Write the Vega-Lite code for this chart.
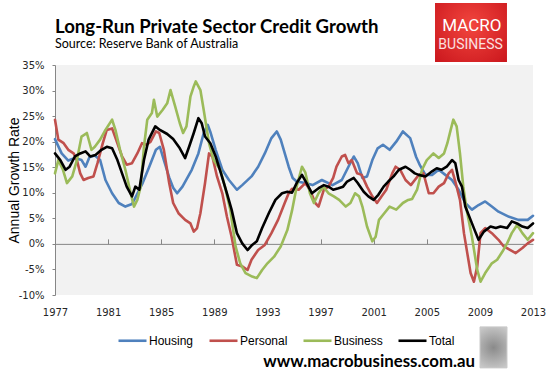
{
  "$schema": "https://vega.github.io/schema/vega-lite/v6.json",
  "width": 478,
  "height": 230,
  "autosize": {"type": "none"},
  "padding": {"left": 55, "top": 65, "right": 20, "bottom": 79},
  "background": "white",
  "config": {
    "view": {"fill": "#F2F2F2", "stroke": null},
    "font": "Liberation Sans"
  },
  "title": {
    "text": "Long-Run Private Sector Credit Growth",
    "subtitle": "Source: Reserve Bank of Australia",
    "anchor": "start",
    "frame": "group",
    "font": "Lato",
    "fontSize": 18.6,
    "fontWeight": "bold",
    "color": "#000000",
    "subtitleFont": "Lato",
    "subtitleFontSize": 12.5,
    "subtitleColor": "#000000",
    "subtitlePadding": 2,
    "offset": -48
  },
  "datasets": {
    "credit": [
      {"series":"Housing","year":1977.0,"value":20.5},
      {"series":"Housing","year":1977.5,"value":17.7},
      {"series":"Housing","year":1978.0,"value":16.3},
      {"series":"Housing","year":1978.5,"value":16.8},
      {"series":"Housing","year":1979.0,"value":16.4},
      {"series":"Housing","year":1979.3,"value":15.1},
      {"series":"Housing","year":1979.6,"value":17.0},
      {"series":"Housing","year":1980.0,"value":17.3},
      {"series":"Housing","year":1980.4,"value":16.4},
      {"series":"Housing","year":1980.8,"value":12.5},
      {"series":"Housing","year":1981.3,"value":9.9},
      {"series":"Housing","year":1981.8,"value":8.0},
      {"series":"Housing","year":1982.3,"value":7.3},
      {"series":"Housing","year":1982.8,"value":7.8},
      {"series":"Housing","year":1983.1,"value":9.3},
      {"series":"Housing","year":1983.6,"value":11.9},
      {"series":"Housing","year":1984.1,"value":15.1},
      {"series":"Housing","year":1984.6,"value":18.4},
      {"series":"Housing","year":1984.9,"value":19.0},
      {"series":"Housing","year":1985.2,"value":16.4},
      {"series":"Housing","year":1985.6,"value":13.0},
      {"series":"Housing","year":1985.9,"value":11.0},
      {"series":"Housing","year":1986.2,"value":9.9},
      {"series":"Housing","year":1986.6,"value":11.2},
      {"series":"Housing","year":1987.3,"value":14.5},
      {"series":"Housing","year":1987.8,"value":17.7},
      {"series":"Housing","year":1988.2,"value":21.7},
      {"series":"Housing","year":1988.5,"value":23.3},
      {"series":"Housing","year":1988.7,"value":21.9},
      {"series":"Housing","year":1989.1,"value":18.4},
      {"series":"Housing","year":1989.6,"value":14.5},
      {"series":"Housing","year":1990.1,"value":12.5},
      {"series":"Housing","year":1990.7,"value":10.6},
      {"series":"Housing","year":1991.1,"value":11.5},
      {"series":"Housing","year":1991.8,"value":13.2},
      {"series":"Housing","year":1992.3,"value":15.1},
      {"series":"Housing","year":1992.8,"value":17.7},
      {"series":"Housing","year":1993.3,"value":20.7},
      {"series":"Housing","year":1993.7,"value":22.0},
      {"series":"Housing","year":1994.0,"value":20.4},
      {"series":"Housing","year":1994.6,"value":15.1},
      {"series":"Housing","year":1994.9,"value":12.9},
      {"series":"Housing","year":1995.2,"value":12.2},
      {"series":"Housing","year":1995.85,"value":11.9},
      {"series":"Housing","year":1996.4,"value":11.5},
      {"series":"Housing","year":1997.1,"value":12.5},
      {"series":"Housing","year":1997.9,"value":11.5},
      {"series":"Housing","year":1998.6,"value":12.5},
      {"series":"Housing","year":1999.1,"value":15.1},
      {"series":"Housing","year":1999.5,"value":17.1},
      {"series":"Housing","year":1999.8,"value":15.8},
      {"series":"Housing","year":2000.15,"value":12.9},
      {"series":"Housing","year":2000.5,"value":13.2},
      {"series":"Housing","year":2000.9,"value":16.4},
      {"series":"Housing","year":2001.3,"value":18.7},
      {"series":"Housing","year":2001.7,"value":19.4},
      {"series":"Housing","year":2002.2,"value":18.4},
      {"series":"Housing","year":2002.7,"value":20.0},
      {"series":"Housing","year":2003.2,"value":22.0},
      {"series":"Housing","year":2003.75,"value":20.7},
      {"series":"Housing","year":2004.2,"value":17.0},
      {"series":"Housing","year":2004.5,"value":15.3},
      {"series":"Housing","year":2004.9,"value":13.5},
      {"series":"Housing","year":2005.4,"value":13.5},
      {"series":"Housing","year":2005.9,"value":14.5},
      {"series":"Housing","year":2006.4,"value":13.5},
      {"series":"Housing","year":2006.9,"value":12.5},
      {"series":"Housing","year":2007.4,"value":10.6},
      {"series":"Housing","year":2007.9,"value":8.0},
      {"series":"Housing","year":2008.4,"value":6.7},
      {"series":"Housing","year":2008.9,"value":7.6},
      {"series":"Housing","year":2009.4,"value":8.3},
      {"series":"Housing","year":2009.9,"value":7.3},
      {"series":"Housing","year":2010.4,"value":6.3},
      {"series":"Housing","year":2011.2,"value":5.3},
      {"series":"Housing","year":2011.9,"value":4.7},
      {"series":"Housing","year":2012.6,"value":4.7},
      {"series":"Housing","year":2013.0,"value":5.5},

      {"series":"Personal","year":1977.0,"value":24.3},
      {"series":"Personal","year":1977.25,"value":20.4},
      {"series":"Personal","year":1977.65,"value":19.7},
      {"series":"Personal","year":1978.0,"value":18.4},
      {"series":"Personal","year":1978.4,"value":17.7},
      {"series":"Personal","year":1978.65,"value":16.4},
      {"series":"Personal","year":1978.9,"value":13.8},
      {"series":"Personal","year":1979.15,"value":12.5},
      {"series":"Personal","year":1979.5,"value":12.9},
      {"series":"Personal","year":1979.9,"value":13.2},
      {"series":"Personal","year":1980.2,"value":15.8},
      {"series":"Personal","year":1980.6,"value":19.7},
      {"series":"Personal","year":1980.9,"value":22.3},
      {"series":"Personal","year":1981.3,"value":22.6},
      {"series":"Personal","year":1981.7,"value":19.7},
      {"series":"Personal","year":1982.05,"value":17.1},
      {"series":"Personal","year":1982.4,"value":15.5},
      {"series":"Personal","year":1982.8,"value":15.8},
      {"series":"Personal","year":1983.2,"value":17.7},
      {"series":"Personal","year":1983.55,"value":19.7},
      {"series":"Personal","year":1983.9,"value":19.4},
      {"series":"Personal","year":1984.2,"value":20.0},
      {"series":"Personal","year":1984.6,"value":22.0},
      {"series":"Personal","year":1984.85,"value":21.7},
      {"series":"Personal","year":1985.2,"value":18.4},
      {"series":"Personal","year":1985.6,"value":11.9},
      {"series":"Personal","year":1985.9,"value":8.0},
      {"series":"Personal","year":1986.3,"value":6.0},
      {"series":"Personal","year":1986.8,"value":4.7},
      {"series":"Personal","year":1987.2,"value":4.0},
      {"series":"Personal","year":1987.45,"value":2.4},
      {"series":"Personal","year":1987.7,"value":3.1},
      {"series":"Personal","year":1987.95,"value":6.0},
      {"series":"Personal","year":1988.3,"value":11.9},
      {"series":"Personal","year":1988.6,"value":17.7},
      {"series":"Personal","year":1988.85,"value":17.1},
      {"series":"Personal","year":1989.2,"value":13.2},
      {"series":"Personal","year":1989.6,"value":9.9},
      {"series":"Personal","year":1989.95,"value":5.3},
      {"series":"Personal","year":1990.3,"value":1.4},
      {"series":"Personal","year":1990.7,"value":-4.1},
      {"series":"Personal","year":1991.1,"value":-4.4},
      {"series":"Personal","year":1991.5,"value":-5.1},
      {"series":"Personal","year":1991.8,"value":-3.1},
      {"series":"Personal","year":1992.3,"value":-1.2},
      {"series":"Personal","year":1992.8,"value":-0.2},
      {"series":"Personal","year":1993.3,"value":2.1},
      {"series":"Personal","year":1993.8,"value":4.7},
      {"series":"Personal","year":1994.3,"value":8.0},
      {"series":"Personal","year":1994.6,"value":9.9},
      {"series":"Personal","year":1994.85,"value":10.8},
      {"series":"Personal","year":1995.35,"value":10.6},
      {"series":"Personal","year":1995.85,"value":11.9},
      {"series":"Personal","year":1996.2,"value":10.6},
      {"series":"Personal","year":1996.6,"value":8.0},
      {"series":"Personal","year":1996.85,"value":7.3},
      {"series":"Personal","year":1997.25,"value":10.6},
      {"series":"Personal","year":1997.6,"value":11.2},
      {"series":"Personal","year":1997.95,"value":12.9},
      {"series":"Personal","year":1998.2,"value":15.1},
      {"series":"Personal","year":1998.6,"value":17.1},
      {"series":"Personal","year":1998.85,"value":17.4},
      {"series":"Personal","year":1999.1,"value":15.8},
      {"series":"Personal","year":1999.35,"value":16.4},
      {"series":"Personal","year":1999.75,"value":13.8},
      {"series":"Personal","year":2000.1,"value":13.5},
      {"series":"Personal","year":2000.5,"value":11.2},
      {"series":"Personal","year":2000.9,"value":9.3},
      {"series":"Personal","year":2001.25,"value":8.0},
      {"series":"Personal","year":2001.6,"value":9.3},
      {"series":"Personal","year":2001.95,"value":10.6},
      {"series":"Personal","year":2002.4,"value":13.8},
      {"series":"Personal","year":2002.65,"value":15.1},
      {"series":"Personal","year":2003.0,"value":14.5},
      {"series":"Personal","year":2003.4,"value":12.5},
      {"series":"Personal","year":2003.8,"value":11.5},
      {"series":"Personal","year":2004.1,"value":12.5},
      {"series":"Personal","year":2004.4,"value":13.5},
      {"series":"Personal","year":2004.75,"value":13.8},
      {"series":"Personal","year":2005.15,"value":9.9},
      {"series":"Personal","year":2005.5,"value":9.9},
      {"series":"Personal","year":2005.9,"value":11.2},
      {"series":"Personal","year":2006.3,"value":11.9},
      {"series":"Personal","year":2006.65,"value":13.8},
      {"series":"Personal","year":2006.9,"value":14.5},
      {"series":"Personal","year":2007.15,"value":12.2},
      {"series":"Personal","year":2007.5,"value":8.6},
      {"series":"Personal","year":2007.8,"value":2.1},
      {"series":"Personal","year":2008.05,"value":-1.8},
      {"series":"Personal","year":2008.3,"value":-5.7},
      {"series":"Personal","year":2008.55,"value":-7.4},
      {"series":"Personal","year":2008.8,"value":-4.4},
      {"series":"Personal","year":2009.05,"value":2.1},
      {"series":"Personal","year":2009.4,"value":3.1},
      {"series":"Personal","year":2009.9,"value":2.1},
      {"series":"Personal","year":2010.4,"value":0.8},
      {"series":"Personal","year":2010.8,"value":-0.5},
      {"series":"Personal","year":2011.3,"value":-1.2},
      {"series":"Personal","year":2011.7,"value":-1.8},
      {"series":"Personal","year":2012.2,"value":-0.8},
      {"series":"Personal","year":2012.6,"value":0.1},
      {"series":"Personal","year":2013.0,"value":0.8},

      {"series":"Business","year":1977.0,"value":13.8},
      {"series":"Business","year":1977.25,"value":16.4},
      {"series":"Business","year":1977.6,"value":14.5},
      {"series":"Business","year":1977.9,"value":11.9},
      {"series":"Business","year":1978.3,"value":13.2},
      {"series":"Business","year":1978.65,"value":16.4},
      {"series":"Business","year":1979.0,"value":21.0},
      {"series":"Business","year":1979.4,"value":21.7},
      {"series":"Business","year":1979.75,"value":18.4},
      {"series":"Business","year":1980.0,"value":19.0},
      {"series":"Business","year":1980.4,"value":20.4},
      {"series":"Business","year":1980.8,"value":22.3},
      {"series":"Business","year":1981.3,"value":24.3},
      {"series":"Business","year":1981.55,"value":22.3},
      {"series":"Business","year":1981.9,"value":18.4},
      {"series":"Business","year":1982.3,"value":14.5},
      {"series":"Business","year":1982.7,"value":9.9},
      {"series":"Business","year":1982.95,"value":7.3},
      {"series":"Business","year":1983.2,"value":8.6},
      {"series":"Business","year":1983.45,"value":11.2},
      {"series":"Business","year":1983.7,"value":19.0},
      {"series":"Business","year":1983.95,"value":24.3},
      {"series":"Business","year":1984.3,"value":25.6},
      {"series":"Business","year":1984.45,"value":28.2},
      {"series":"Business","year":1984.7,"value":24.9},
      {"series":"Business","year":1985.1,"value":26.2},
      {"series":"Business","year":1985.45,"value":27.5},
      {"series":"Business","year":1985.7,"value":30.1},
      {"series":"Business","year":1986.05,"value":26.9},
      {"series":"Business","year":1986.4,"value":23.6},
      {"series":"Business","year":1986.65,"value":21.7},
      {"series":"Business","year":1986.9,"value":23.0},
      {"series":"Business","year":1987.2,"value":28.8},
      {"series":"Business","year":1987.45,"value":30.8},
      {"series":"Business","year":1987.6,"value":31.8},
      {"series":"Business","year":1987.95,"value":30.1},
      {"series":"Business","year":1988.2,"value":26.2},
      {"series":"Business","year":1988.6,"value":19.7},
      {"series":"Business","year":1988.95,"value":16.4},
      {"series":"Business","year":1989.45,"value":14.5},
      {"series":"Business","year":1989.8,"value":11.2},
      {"series":"Business","year":1990.2,"value":6.7},
      {"series":"Business","year":1990.6,"value":-0.5},
      {"series":"Business","year":1990.95,"value":-3.8},
      {"series":"Business","year":1991.35,"value":-5.7},
      {"series":"Business","year":1991.85,"value":-6.4},
      {"series":"Business","year":1992.2,"value":-6.7},
      {"series":"Business","year":1992.6,"value":-5.1},
      {"series":"Business","year":1993.0,"value":-3.8},
      {"series":"Business","year":1993.5,"value":-2.5},
      {"series":"Business","year":1994.0,"value":-0.5},
      {"series":"Business","year":1994.5,"value":2.7},
      {"series":"Business","year":1994.85,"value":6.5},
      {"series":"Business","year":1995.2,"value":11.2},
      {"series":"Business","year":1995.6,"value":15.1},
      {"series":"Business","year":1995.85,"value":14.0},
      {"series":"Business","year":1996.2,"value":9.9},
      {"series":"Business","year":1996.5,"value":8.0},
      {"series":"Business","year":1996.85,"value":9.9},
      {"series":"Business","year":1997.2,"value":11.2},
      {"series":"Business","year":1997.6,"value":9.9},
      {"series":"Business","year":1998.0,"value":9.3},
      {"series":"Business","year":1998.4,"value":8.6},
      {"series":"Business","year":1998.9,"value":7.3},
      {"series":"Business","year":1999.25,"value":8.0},
      {"series":"Business","year":1999.6,"value":9.9},
      {"series":"Business","year":1999.9,"value":9.3},
      {"series":"Business","year":2000.15,"value":7.3},
      {"series":"Business","year":2000.5,"value":3.4},
      {"series":"Business","year":2000.9,"value":0.5},
      {"series":"Business","year":2001.15,"value":1.4},
      {"series":"Business","year":2001.4,"value":4.7},
      {"series":"Business","year":2001.8,"value":6.0},
      {"series":"Business","year":2002.2,"value":7.3},
      {"series":"Business","year":2002.7,"value":6.7},
      {"series":"Business","year":2003.2,"value":8.0},
      {"series":"Business","year":2003.6,"value":8.6},
      {"series":"Business","year":2003.9,"value":8.8},
      {"series":"Business","year":2004.27,"value":10.6},
      {"series":"Business","year":2004.64,"value":14.5},
      {"series":"Business","year":2005.0,"value":16.4},
      {"series":"Business","year":2005.5,"value":17.7},
      {"series":"Business","year":2005.9,"value":16.8},
      {"series":"Business","year":2006.3,"value":17.7},
      {"series":"Business","year":2006.55,"value":19.7},
      {"series":"Business","year":2006.8,"value":22.3},
      {"series":"Business","year":2007.0,"value":24.3},
      {"series":"Business","year":2007.25,"value":23.0},
      {"series":"Business","year":2007.5,"value":17.7},
      {"series":"Business","year":2007.75,"value":11.2},
      {"series":"Business","year":2008.0,"value":6.7},
      {"series":"Business","year":2008.4,"value":1.4},
      {"series":"Business","year":2008.8,"value":-5.1},
      {"series":"Business","year":2009.05,"value":-7.4},
      {"series":"Business","year":2009.4,"value":-5.7},
      {"series":"Business","year":2009.9,"value":-3.8},
      {"series":"Business","year":2010.3,"value":-3.1},
      {"series":"Business","year":2010.7,"value":-1.5},
      {"series":"Business","year":2011.05,"value":0.1},
      {"series":"Business","year":2011.4,"value":2.1},
      {"series":"Business","year":2011.8,"value":3.7},
      {"series":"Business","year":2012.2,"value":2.1},
      {"series":"Business","year":2012.6,"value":0.8},
      {"series":"Business","year":2013.0,"value":2.1},

      {"series":"Total","year":1977.0,"value":17.7},
      {"series":"Total","year":1977.4,"value":16.4},
      {"series":"Total","year":1977.8,"value":14.5},
      {"series":"Total","year":1978.1,"value":15.1},
      {"series":"Total","year":1978.5,"value":17.1},
      {"series":"Total","year":1978.9,"value":17.7},
      {"series":"Total","year":1979.3,"value":18.1},
      {"series":"Total","year":1979.65,"value":17.1},
      {"series":"Total","year":1980.05,"value":17.4},
      {"series":"Total","year":1980.5,"value":18.4},
      {"series":"Total","year":1980.9,"value":19.0},
      {"series":"Total","year":1981.3,"value":18.7},
      {"series":"Total","year":1981.7,"value":16.4},
      {"series":"Total","year":1982.05,"value":13.8},
      {"series":"Total","year":1982.4,"value":11.2},
      {"series":"Total","year":1982.8,"value":9.3},
      {"series":"Total","year":1983.05,"value":11.2},
      {"series":"Total","year":1983.35,"value":10.6},
      {"series":"Total","year":1983.7,"value":16.4},
      {"series":"Total","year":1984.05,"value":20.4},
      {"series":"Total","year":1984.55,"value":23.0},
      {"series":"Total","year":1984.9,"value":22.3},
      {"series":"Total","year":1985.45,"value":21.5},
      {"series":"Total","year":1985.9,"value":20.5},
      {"series":"Total","year":1986.4,"value":18.7},
      {"series":"Total","year":1986.8,"value":16.8},
      {"series":"Total","year":1987.1,"value":19.0},
      {"series":"Total","year":1987.45,"value":21.7},
      {"series":"Total","year":1987.8,"value":24.6},
      {"series":"Total","year":1988.05,"value":23.6},
      {"series":"Total","year":1988.3,"value":21.0},
      {"series":"Total","year":1988.7,"value":19.7},
      {"series":"Total","year":1989.1,"value":17.1},
      {"series":"Total","year":1989.5,"value":13.8},
      {"series":"Total","year":1989.95,"value":9.9},
      {"series":"Total","year":1990.3,"value":6.7},
      {"series":"Total","year":1990.7,"value":2.1},
      {"series":"Total","year":1991.1,"value":0.1},
      {"series":"Total","year":1991.5,"value":-1.2},
      {"series":"Total","year":1991.85,"value":-0.2},
      {"series":"Total","year":1992.2,"value":0.5},
      {"series":"Total","year":1992.6,"value":3.1},
      {"series":"Total","year":1993.1,"value":6.0},
      {"series":"Total","year":1993.6,"value":8.6},
      {"series":"Total","year":1994.1,"value":9.9},
      {"series":"Total","year":1994.5,"value":10.2},
      {"series":"Total","year":1994.85,"value":10.0},
      {"series":"Total","year":1995.2,"value":11.9},
      {"series":"Total","year":1995.6,"value":13.5},
      {"series":"Total","year":1995.95,"value":11.9},
      {"series":"Total","year":1996.35,"value":9.9},
      {"series":"Total","year":1996.85,"value":10.9},
      {"series":"Total","year":1997.25,"value":11.5},
      {"series":"Total","year":1997.6,"value":11.2},
      {"series":"Total","year":1997.95,"value":10.6},
      {"series":"Total","year":1998.35,"value":10.9},
      {"series":"Total","year":1998.7,"value":11.2},
      {"series":"Total","year":1999.0,"value":12.2},
      {"series":"Total","year":1999.5,"value":12.9},
      {"series":"Total","year":1999.8,"value":11.9},
      {"series":"Total","year":2000.25,"value":10.2},
      {"series":"Total","year":2000.6,"value":9.3},
      {"series":"Total","year":2001.0,"value":8.6},
      {"series":"Total","year":2001.35,"value":9.6},
      {"series":"Total","year":2001.75,"value":11.2},
      {"series":"Total","year":2002.1,"value":12.2},
      {"series":"Total","year":2002.5,"value":13.2},
      {"series":"Total","year":2002.9,"value":14.5},
      {"series":"Total","year":2003.4,"value":15.1},
      {"series":"Total","year":2003.75,"value":14.5},
      {"series":"Total","year":2004.1,"value":13.8},
      {"series":"Total","year":2004.4,"value":13.5},
      {"series":"Total","year":2004.9,"value":13.2},
      {"series":"Total","year":2005.4,"value":14.2},
      {"series":"Total","year":2005.75,"value":14.8},
      {"series":"Total","year":2006.1,"value":14.5},
      {"series":"Total","year":2006.5,"value":15.1},
      {"series":"Total","year":2006.9,"value":16.4},
      {"series":"Total","year":2007.15,"value":15.8},
      {"series":"Total","year":2007.4,"value":12.5},
      {"series":"Total","year":2007.65,"value":11.2},
      {"series":"Total","year":2007.9,"value":7.3},
      {"series":"Total","year":2008.3,"value":4.7},
      {"series":"Total","year":2008.65,"value":2.4},
      {"series":"Total","year":2008.9,"value":0.8},
      {"series":"Total","year":2009.3,"value":2.4},
      {"series":"Total","year":2009.8,"value":3.4},
      {"series":"Total","year":2010.2,"value":3.1},
      {"series":"Total","year":2010.55,"value":3.4},
      {"series":"Total","year":2011.05,"value":3.1},
      {"series":"Total","year":2011.4,"value":4.4},
      {"series":"Total","year":2011.8,"value":4.0},
      {"series":"Total","year":2012.2,"value":3.4},
      {"series":"Total","year":2012.6,"value":3.1},
      {"series":"Total","year":2013.0,"value":4.0}
    ]
  },
  "data": {"name": "credit"},
  "layer": [
    {
      "mark": {"type": "point", "opacity": 0},
      "encoding": {
        "x": {
          "field": "year", "type": "quantitative",
          "scale": {"domain": [1977, 2013], "nice": false, "zero": false},
          "axis": {
            "orient": "bottom", "title": null, "domain": false, "ticks": false, "grid": false,
            "values": [1977, 1981, 1985, 1989, 1993, 1997, 2001, 2005, 2009, 2013],
            "format": "d", "labelFont": "DejaVu Sans", "labelFontSize": 10,
            "labelColor": "#262626", "labelPadding": 12, "labelFlush": false, "labelOverlap": false
          }
        },
        "y": {
          "field": "value", "type": "quantitative",
          "scale": {"domain": [-10, 35], "nice": false, "zero": false},
          "axis": null
        }
      }
    },
    {
      "mark": {"type": "line", "strokeJoin": "round", "strokeCap": "round"},
      "encoding": {
        "x": {
          "field": "year", "type": "quantitative",
          "scale": {"domain": [1977, 2013], "nice": false, "zero": false},
          "axis": {
            "orient": "bottom", "offset": -51.11, "title": null, "labels": false, "grid": false,
            "domain": true, "domainColor": "#868686", "domainWidth": 1,
            "ticks": true, "tickColor": "#868686", "tickSize": -5, "tickWidth": 1,
            "values": [1981, 1985, 1989, 1993, 1997, 2001, 2005, 2009]
          }
        },
        "y": {
          "field": "value", "type": "quantitative",
          "scale": {"domain": [-10, 35], "nice": false, "zero": false},
          "axis": {
            "orient": "left", "title": "Annual Growth Rate", "grid": false,
            "values": [-10, -5, 0, 5, 10, 15, 20, 25, 30, 35],
            "labelExpr": "datum.value + '%'",
            "labelFont": "DejaVu Sans", "labelFontSize": 10, "labelColor": "#262626",
            "labelPadding": 8, "domainColor": "#868686", "ticks": true, "tickSize": 3,
            "tickColor": "#868686", "titleFont": "Liberation Sans", "titleFontSize": 14,
            "titleFontWeight": "normal", "titleColor": "#000000", "titlePadding": -3
          }
        },
        "color": {
          "field": "series", "type": "nominal",
          "scale": {"domain": ["Housing", "Personal", "Business", "Total"],
                    "range": ["#4F81BD", "#C0504D", "#9BBB59", "#000000"]},
          "legend": {
            "orient": "none", "legendX": 62, "legendY": 260, "direction": "horizontal",
            "title": null, "symbolType": "stroke", "symbolSize": 784, "symbolStrokeWidth": 3,
            "labelFont": "Liberation Sans", "labelFontSize": 12, "labelColor": "#000000",
            "labelOffset": 1, "columnPadding": 10
          }
        },
        "strokeWidth": {
          "field": "series", "type": "nominal",
          "scale": {"domain": ["Housing", "Personal", "Business", "Total"], "range": [2.6, 2.6, 2.6, 3.2]},
          "legend": null
        }
      }
    },
    {
      "data": {"values": [{}]},
      "mark": {"type": "rect", "fill": {"gradient": "radial", "x1": 0.5, "y1": 0.4, "x2": 0.5, "y2": 0.4, "r1": 0, "r2": 0.75, "stops": [{"offset": 0, "color": "#F2463E"}, {"offset": 1, "color": "#C8141B"}]}},
      "encoding": {
        "x": {"datum": 2005.62, "type": "quantitative", "scale": {"domain": [1977, 2013], "nice": false, "zero": false}, "axis": null},
        "x2": {"datum": 2011.04},
        "y": {"datum": 47.15, "type": "quantitative", "scale": {"domain": [-10, 35], "nice": false, "zero": false}, "axis": null},
        "y2": {"datum": 35.6}
      }
    },
    {
      "data": {"values": [{}]},
      "mark": {"type": "text", "text": "MACRO", "font": "Roboto", "fontSize": 17, "color": "#FFFFFF", "align": "center", "baseline": "middle"},
      "encoding": {
        "x": {"datum": 2008.4, "type": "quantitative", "scale": {"domain": [1977, 2013], "nice": false, "zero": false}, "axis": null},
        "y": {"datum": 42.55, "type": "quantitative", "scale": {"domain": [-10, 35], "nice": false, "zero": false}, "axis": null}
      }
    },
    {
      "data": {"values": [{}]},
      "mark": {"type": "text", "text": "BUSINESS", "font": "Roboto", "fontSize": 14, "color": "#FBE0E0", "align": "center", "baseline": "middle"},
      "encoding": {
        "x": {"datum": 2008.3, "type": "quantitative", "scale": {"domain": [1977, 2013], "nice": false, "zero": false}, "axis": null},
        "y": {"datum": 38.9, "type": "quantitative", "scale": {"domain": [-10, 35], "nice": false, "zero": false}, "axis": null}
      }
    },
    {
      "data": {"values": [{}]},
      "mark": {"type": "text", "text": "www.macrobusiness.com.au", "font": "Lato", "fontSize": 16.8, "fontWeight": "bold", "color": "#000000", "align": "right", "baseline": "middle"},
      "encoding": {
        "x": {"datum": 2008.63, "type": "quantitative", "scale": {"domain": [1977, 2013], "nice": false, "zero": false}, "axis": null},
        "y": {"datum": -23.1, "type": "quantitative", "scale": {"domain": [-10, 35], "nice": false, "zero": false}, "axis": null}
      }
    },
    {
      "data": {"values": [{}]},
      "mark": {"type": "rect", "fill": {"gradient": "radial", "x1": 0.5, "y1": 0.5, "x2": 0.5, "y2": 0.5, "r1": 0, "r2": 0.7, "stops": [{"offset": 0, "color": "#8A8A8A"}, {"offset": 1, "color": "#D8D8D8"}]}, "stroke": "#C8C8C8", "strokeWidth": 1},
      "encoding": {
        "x": {"datum": 2009.01, "type": "quantitative", "scale": {"domain": [1977, 2013], "nice": false, "zero": false}, "axis": null},
        "x2": {"datum": 2011.04},
        "y": {"datum": -16.24, "type": "quantitative", "scale": {"domain": [-10, 35], "nice": false, "zero": false}, "axis": null},
        "y2": {"datum": -24.26}
      }
    }
  ],
  "resolve": {"axis": {"x": "independent", "y": "independent"}}
}
